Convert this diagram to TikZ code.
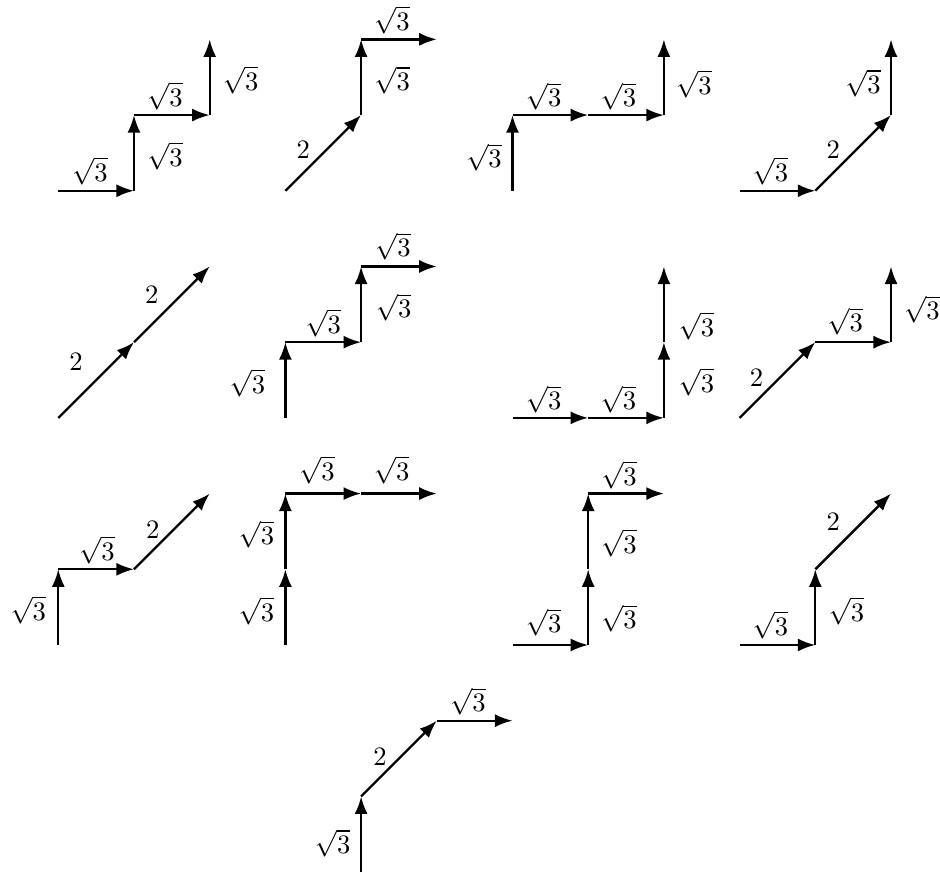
\documentclass[tikz,border=0pt]{standalone}
\usetikzlibrary{arrows.meta}
\tikzset{
  seg/.style={line width=0.88pt,-{Latex[length=6.6pt,width=4.9pt]}},
  lb/.style 2 args={midway, anchor=center, inner sep=0pt, xshift=(#1)*0.3759pt, yshift=-(#2)*0.3759pt},
}
\newcommand{\rt}{$\sqrt{3}$}
\begin{document}
\begin{tikzpicture}
\useasboundingbox (-0.77,-9) rectangle (11.647,2.52);
% ---------- D1 ----------
\begin{scope}[shift={(0,0)}]
\coordinate (a0) at (0,0); \coordinate (a1) at (1,0); \coordinate (a2) at (1,1); \coordinate (a3) at (2,1); \coordinate (a4) at (2,2);
\draw[seg] (a0) -- node[lb={-6.3}{-20}] {\rt} (a1);
\draw[seg] (a1) -- node[lb={31}{3}] {\rt} (a2);
\draw[seg] (a2) -- node[lb={-7}{-19}] {\rt} (a3);
\draw[seg] (a3) -- node[lb={31}{2.5}] {\rt} (a4);
\end{scope}
% ---------- D2 ----------
\begin{scope}[shift={(3,0)}]
\coordinate (b0) at (0,0); \coordinate (b1) at (1,1); \coordinate (b2) at (1,2); \coordinate (b3) at (2,2);
\draw[seg] (b0) -- node[lb={-20}{-3}] {$2$} (b1);
\draw[seg] (b1) -- node[lb={31}{3}] {\rt} (b2);
\draw[seg] (b2) -- node[lb={-7}{-19.5}] {\rt} (b3);
\end{scope}
% ---------- D3 ----------
\begin{scope}[shift={(6,0)}]
\coordinate (c0) at (0,0); \coordinate (c1) at (0,1); \coordinate (c2) at (1,1); \coordinate (c3) at (2,1); \coordinate (c4) at (2,2);
\draw[seg] (c0) -- node[lb={-28.5}{4.5}] {\rt} (c1);
\draw[seg] (c1) -- node[lb={-6.7}{-18.5}] {\rt} (c2);
\draw[seg] (c2) -- node[lb={-7.7}{-18.5}] {\rt} (c3);
\draw[seg] (c3) -- node[lb={30}{6.5}] {\rt} (c4);
\end{scope}
% ---------- D4 ----------
\begin{scope}[shift={(9,0)}]
\coordinate (d0) at (0,0); \coordinate (d1) at (1,0); \coordinate (d2) at (2,1); \coordinate (d3) at (2,2);
\draw[seg] (d0) -- node[lb={-7}{-20}] {\rt} (d1);
\draw[seg] (d1) -- node[lb={-20}{-3}] {$2$} (d2);
\draw[seg] (d2) -- node[lb={-28}{6}] {\rt} (d3);
\end{scope}
% ---------- D5 ----------
\begin{scope}[shift={(0,-3)}]
\coordinate (e0) at (0,0); \coordinate (e1) at (1,1); \coordinate (e2) at (2,2);
\draw[seg] (e0) -- node[lb={-20}{-18}] {$2$} (e1);
\draw[seg] (e1) -- node[lb={-20}{-9}] {$2$} (e2);
\end{scope}
% ---------- D6 ----------
\begin{scope}[shift={(3,-3)}]
\coordinate (f0) at (0,0); \coordinate (f1) at (0,1); \coordinate (f2) at (1,1); \coordinate (f3) at (1,2); \coordinate (f4) at (2,2);
\draw[seg] (f0) -- node[lb={-38}{3}] {\rt} (f1);
\draw[seg] (f1) -- node[lb={0}{-19}] {\rt} (f2);
\draw[seg] (f2) -- node[lb={32.5}{3}] {\rt} (f3);
\draw[seg] (f3) -- node[lb={-6}{-20}] {\rt} (f4);
\end{scope}
% ---------- D7 ----------
\begin{scope}[shift={(6,-3)}]
\coordinate (g0) at (0,0); \coordinate (g1) at (1,0); \coordinate (g2) at (2,0); \coordinate (g3) at (2,1); \coordinate (g4) at (2,2);
\draw[seg] (g0) -- node[lb={-6.7}{-18.5}] {\rt} (g1);
\draw[seg] (g1) -- node[lb={-7.7}{-18.5}] {\rt} (g2);
\draw[seg] (g2) -- node[lb={32.5}{1.7}] {\rt} (g3);
\draw[seg] (g3) -- node[lb={32.5}{21.5}] {\rt} (g4);
\end{scope}
% ---------- D8 ----------
\begin{scope}[shift={(9,-3)}]
\coordinate (h0) at (0,0); \coordinate (h1) at (1,1); \coordinate (h2) at (2,1); \coordinate (h3) at (2,2);
\draw[seg] (h0) -- node[lb={-21}{-2}] {$2$} (h1);
\draw[seg] (h1) -- node[lb={-8}{-20.5}] {\rt} (h2);
\draw[seg] (h2) -- node[lb={30.8}{5}] {\rt} (h3);
\end{scope}
% ---------- D9 ----------
\begin{scope}[shift={(0,-6)}]
\coordinate (i0) at (0,0); \coordinate (i1) at (0,1); \coordinate (i2) at (1,1); \coordinate (i3) at (2,2);
\draw[seg] (i0) -- node[lb={-30}{3}] {\rt} (i1);
\draw[seg] (i1) -- node[lb={0.7}{-19.5}] {\rt} (i2);
\draw[seg] (i2) -- node[lb={-19}{-2}] {$2$} (i3);
\end{scope}
% ---------- D10 ----------
\begin{scope}[shift={(3,-6)}]
\coordinate (j0) at (0,0); \coordinate (j1) at (0,1); \coordinate (j2) at (0,2); \coordinate (j3) at (1,2); \coordinate (j4) at (2,2);
\draw[seg] (j0) -- node[lb={-29}{4}] {\rt} (j1);
\draw[seg] (j1) -- node[lb={-29}{3}] {\rt} (j2);
\draw[seg] (j2) -- node[lb={-6.3}{-23.5}] {\rt} (j3);
\draw[seg] (j3) -- node[lb={-7.3}{-23.5}] {\rt} (j4);
\end{scope}
% ---------- D11 ----------
\begin{scope}[shift={(6,-6)}]
\coordinate (k0) at (0,0); \coordinate (k1) at (1,0); \coordinate (k2) at (1,1); \coordinate (k3) at (1,2); \coordinate (k4) at (2,2);
\draw[seg] (k0) -- node[lb={-6.7}{-22.5}] {\rt} (k1);
\draw[seg] (k1) -- node[lb={30.7}{11.5}] {\rt} (k2);
\draw[seg] (k2) -- node[lb={30.7}{11.5}] {\rt} (k3);
\draw[seg] (k3) -- node[lb={-7}{-18.7}] {\rt} (k4);
\end{scope}
% ---------- D12 ----------
\begin{scope}[shift={(9,-6)}]
\coordinate (l0) at (0,0); \coordinate (l1) at (1,0); \coordinate (l2) at (1,1); \coordinate (l3) at (2,2);
\draw[seg] (l0) -- node[lb={-7}{-20}] {\rt} (l1);
\draw[seg] (l1) -- node[lb={31}{4}] {\rt} (l2);
\draw[seg] (l2) -- node[lb={-20}{-10}] {$2$} (l3);
\end{scope}
% ---------- D13 ----------
\begin{scope}[shift={(4,-9)}]
\coordinate (m0) at (0,0); \coordinate (m1) at (0,1); \coordinate (m2) at (1,2); \coordinate (m3) at (2,2);
\draw[seg] (m0) -- node[lb={-28.5}{9}] {\rt} (m1);
\draw[seg] (m1) -- node[lb={-19}{-2}] {$2$} (m2);
\draw[seg] (m2) -- node[lb={-6.7}{-19}] {\rt} (m3);
\end{scope}
\end{tikzpicture}
\end{document}
